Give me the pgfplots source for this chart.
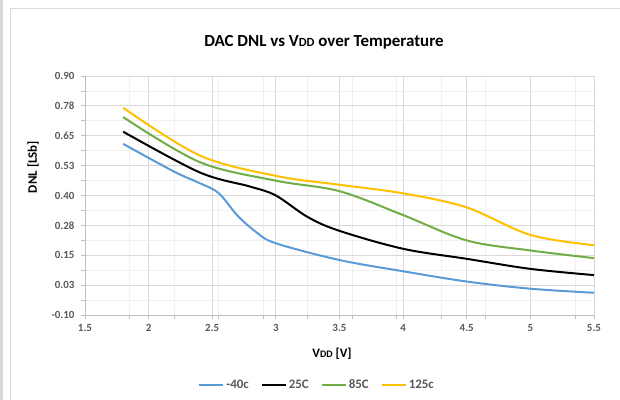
\documentclass[border=0pt]{standalone}
\usepackage{pgfplots}
\pgfplotsset{compat=1.18}
\usepackage{fontspec}
\setmainfont{Carlito}
\definecolor{cblue}{HTML}{5B9BD5}
\definecolor{cgreen}{HTML}{70AD47}
\definecolor{cyellow}{HTML}{FFC000}
\definecolor{tgray}{HTML}{595959}
\definecolor{majgrid}{HTML}{D9D9D9}
\definecolor{mingrid}{HTML}{F0F0F0}
\definecolor{axgray}{HTML}{BFBFBF}
\begin{document}
\begin{tikzpicture}
\path[use as bounding box] (0,0) rectangle (620bp,400bp);
\fill[majgrid] (0,0) rectangle (3bp,400bp);
\draw[majgrid,line width=0.8bp] (10bp,0) -- (10bp,392bp) -- (620bp,392bp);
\begin{axis}[
  at={(85bp,85bp)}, anchor=south west,
  scale only axis, width=509bp, height=239bp,
  xmin=1.5, xmax=5.5, ymin=-0.1, ymax=0.9,
  xtick={1.5,2,...,5.5},
  xticklabels={1.5,2,2.5,3,3.5,4,4.5,5,5.5},
  minor xtick={1.85,2.2,2.55,2.9,3.25,3.6,3.95,4.3,4.65,5.0,5.35},
  ytick={-0.1,0.025,0.15,0.275,0.4,0.525,0.65,0.775,0.9},
  yticklabels={-0.10,0.03,0.15,0.28,0.40,0.53,0.65,0.78,0.90},
  minor ytick={-0.0375,0.0875,0.2125,0.3375,0.4625,0.5875,0.7125,0.8375},
  grid=both,
  major grid style={majgrid, line width=0.8bp},
  minor grid style={mingrid, line width=0.8bp},
  axis lines*=left,
  axis line style={axgray, line width=0.8bp, -},
  tick align=outside,
  major tick length=4bp, minor tick length=4bp,
  tick style={axgray, line width=0.8bp},
  ticklabel style={font=\fontsize{11}{13}\selectfont\bfseries, text=tgray},
  /pgf/number format/assume math mode=true,
  xticklabel style={yshift=-2bp},
  yticklabel style={xshift=-3bp},
  legend columns=4,
  legend style={at={(0.456,-0.293)}, anchor=center, draw=none, fill=none,
    font=\fontsize{13}{15}\selectfont\bfseries, text=tgray,
    /tikz/every even column/.append style={column sep=10bp}},
  legend image code/.code={\draw[#1] (0bp,0bp) -- (24bp,0bp);},
  every axis plot/.append style={line width=2bp, smooth, tension=0.55},
  clip=false,
]
\addplot[cblue] coordinates {(1.8,0.616) (2.2,0.50) (2.4,0.452) (2.55,0.41) (2.7,0.315) (2.85,0.245) (3.0,0.20) (3.5,0.13) (4.0,0.083) (4.5,0.04) (5.0,0.01) (5.5,-0.007)};
\addlegendentry{-40c}
\addplot[black] coordinates {(1.8,0.667) (2.4,0.497) (2.8,0.437) (3.0,0.40) (3.25,0.31) (3.5,0.252) (4.0,0.177) (4.5,0.135) (5.0,0.093) (5.5,0.067)};
\addlegendentry{25C}
\addplot[cgreen] coordinates {(1.8,0.728) (2.4,0.540) (3.0,0.462) (3.5,0.418) (4.0,0.318) (4.5,0.212) (5.0,0.17) (5.5,0.138)};
\addlegendentry{85C}
\addplot[cyellow] coordinates {(1.8,0.767) (2.4,0.568) (3.0,0.482) (3.5,0.445) (4.0,0.409) (4.5,0.35) (5.0,0.235) (5.5,0.192)};
\addlegendentry{125c}
\end{axis}
\node[font=\fontsize{17}{19}\selectfont\bfseries, text=black] at (324bp,358bp) {DAC DNL vs V{\fontsize{12.5}{14}\selectfont DD} over Temperature};
\node[font=\fontsize{13}{15}\selectfont\bfseries, text=black, rotate=90] at (33bp,233bp) {DNL [LSb]};
\node[font=\fontsize{13}{15}\selectfont\bfseries, text=black] at (332bp,46bp) {V{\fontsize{10}{12}\selectfont DD} [V]};
\end{tikzpicture}
\end{document}
